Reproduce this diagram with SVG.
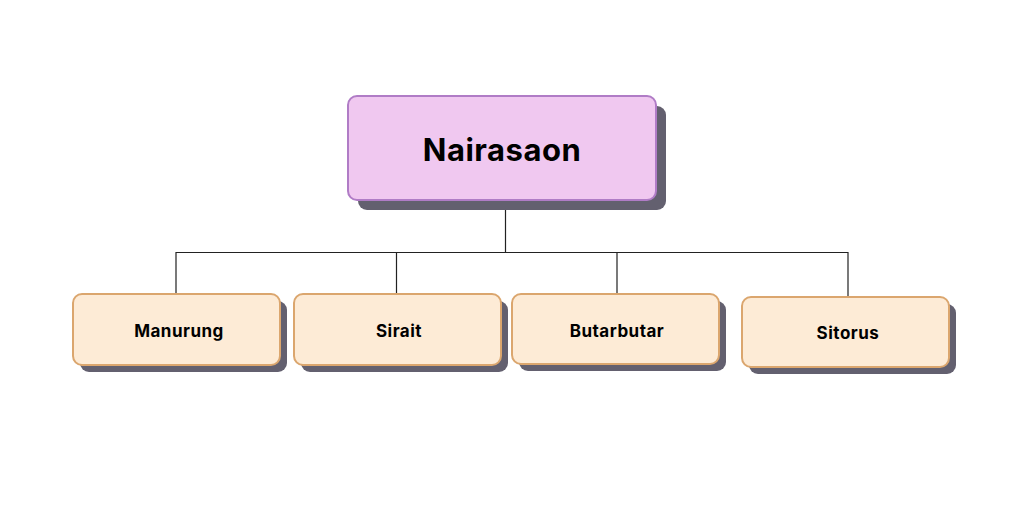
<svg xmlns="http://www.w3.org/2000/svg" width="1024" height="516" viewBox="0 0 1024 516">
<style>
.shadow{fill:#63606f;}
.root{fill:#f0c8f0;stroke:#b07cc6;stroke-width:2;}
.child{fill:#fdebd6;stroke:#dba66e;stroke-width:2;}
.lbl{font-family:Inter,"Liberation Sans",sans-serif;font-weight:bold;fill:#000;text-anchor:middle;}
.sm{font-size:17px;letter-spacing:0.5px;}
.conn{stroke:#222;stroke-width:1.2;fill:none;}
</style>
<rect width="1024" height="516" fill="#ffffff"/>
<g id="connectors">
<path class="conn" d="M505.5 200 V252.5 M176 294 V252.5 H848 V297 M396.5 252.5 V294 M617 252.5 V294"/>
</g>
<g id="node-nairasaon">
<rect class="shadow" x="358" y="106" width="308" height="104" rx="9"/>
<rect class="root" x="348" y="96" width="308" height="104" rx="9"/>
<text class="lbl" x="502" y="161" font-size="31" letter-spacing="0.5">Nairasaon</text>
</g>
<g id="node-manurung">
<rect class="shadow" x="80" y="301" width="207" height="71" rx="9"/>
<rect class="child" x="73" y="294" width="207" height="71" rx="9"/>
<text class="lbl sm" x="179" y="337">Manurung</text>
</g>
<g id="node-sirait">
<rect class="shadow" x="301" y="301" width="207" height="71" rx="9"/>
<rect class="child" x="294" y="294" width="207" height="71" rx="9"/>
<text class="lbl sm" x="399" y="337">Sirait</text>
</g>
<g id="node-butarbutar">
<rect class="shadow" x="519" y="301" width="207" height="70" rx="9"/>
<rect class="child" x="512" y="294" width="207" height="70" rx="9"/>
<text class="lbl sm" x="617" y="337">Butarbutar</text>
</g>
<g id="node-sitorus">
<rect class="shadow" x="749" y="304" width="207" height="70" rx="9"/>
<rect class="child" x="742" y="297" width="207" height="70" rx="9"/>
<text class="lbl sm" x="848" y="339">Sitorus</text>
</g>
</svg>
